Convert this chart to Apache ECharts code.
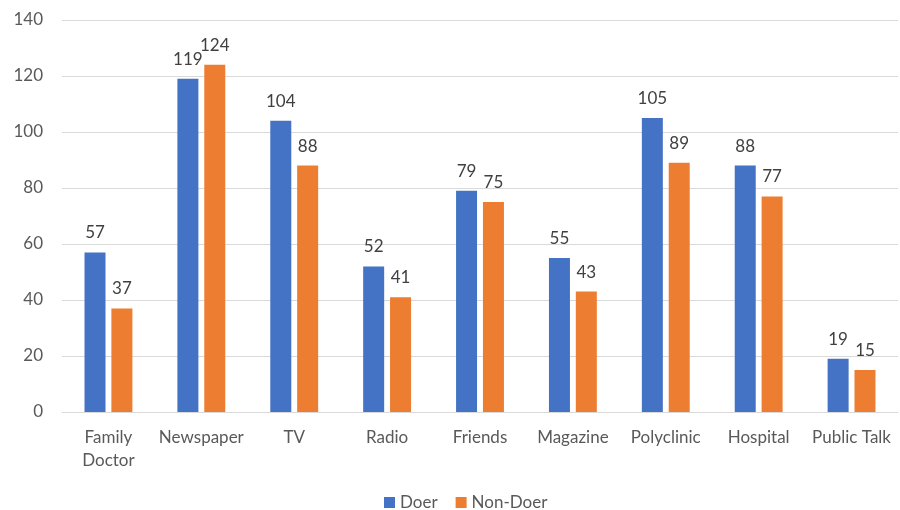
<!DOCTYPE html>
<html>
<head>
<meta charset="utf-8">
<script src="https://cdn.jsdelivr.net/npm/echarts@6/dist/echarts.min.js"></script>
<style>
  html, body { margin: 0; padding: 0; background: #fff; }
  #chart { width: 900px; height: 510px; }
</style>
</head>
<body>
<div id="chart"></div>
<script>
const categories = ['Family\nDoctor', 'Newspaper', 'TV', 'Radio', 'Friends', 'Magazine', 'Polyclinic', 'Hospital', 'Public Talk'];
const doer = [57, 119, 104, 52, 79, 55, 105, 88, 19];
const nonDoer = [37, 124, 88, 41, 75, 43, 89, 77, 15];

const font = 'Lato, "Open Sans", sans-serif';

let myChart = echarts.init(document.getElementById('chart'));
myChart.setOption({
  animation: false,
  textStyle: { fontFamily: font },
  color: ['#4472c4', '#ed7d31'],
  grid: { left: 62, right: 2, top: 20, bottom: 98 },
  legend: {
    top: 494,
    left: 384,
    padding: 0,
    itemWidth: 11,
    itemHeight: 11,
    itemGap: 18,
    icon: 'rect',
    textStyle: { fontSize: 17, color: '#595959', fontFamily: font },
    data: ['Doer', 'Non-Doer']
  },
  xAxis: {
    type: 'category',
    data: categories,
    axisLine: { lineStyle: { color: '#d9d9d9' } },
    axisTick: { show: false },
    axisLabel: { color: '#595959', fontSize: 17, margin: 14, lineHeight: 23, interval: 0 }
  },
  yAxis: {
    type: 'value',
    min: 0,
    max: 140,
    interval: 20,
    axisLine: { show: false },
    axisTick: { show: false },
    splitLine: { lineStyle: { color: '#d9d9d9' } },
    axisLabel: { color: '#595959', fontSize: 17, margin: 19 }
  },
  series: [
    {
      name: 'Doer',
      type: 'bar',
      barWidth: 21,
      barGap: '28%',
      data: doer,
      label: { show: true, position: 'top', distance: 11, color: '#404040', fontSize: 17 }
    },
    {
      name: 'Non-Doer',
      type: 'bar',
      barWidth: 21,
      barGap: '28%',
      data: nonDoer,
      label: { show: true, position: 'top', distance: 11, color: '#404040', fontSize: 17 }
    }
  ]
});
</script>
</body>
</html>
